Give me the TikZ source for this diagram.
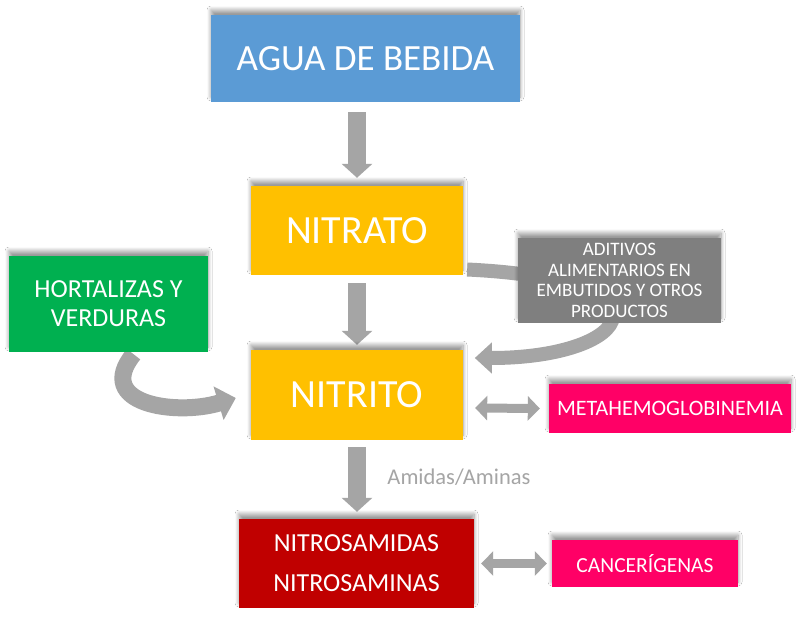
\documentclass[tikz,border=0pt]{standalone}
\usepackage{fontspec}
\setmainfont{Carlito}
\usetikzlibrary{arrows.meta,calc,backgrounds,shadows.blur}
\definecolor{cblue}{HTML}{5B9BD5}
\definecolor{cyellow}{HTML}{FFC000}
\definecolor{cgraybox}{HTML}{7F7F7F}
\definecolor{cgreen}{HTML}{00B050}
\definecolor{cpink}{HTML}{FF0066}
\definecolor{cred}{HTML}{C00000}
\definecolor{carrow}{HTML}{A5A5A5}
\tikzset{
  box/.style={rectangle, inner sep=0pt, text=white, align=center,
    blur shadow={shadow xshift=0pt, shadow yshift=5pt, shadow blur radius=4pt, shadow blur steps=8, shadow opacity=40}},
  downarrow/.style={draw=carrow, line width=18pt, -{Triangle[width=30pt,length=14pt]}},
  bothways/.style={draw=carrow, line width=9pt, {Triangle[width=24pt,length=12pt]}-{Triangle[width=24pt,length=12pt]}},
  bentarrow/.style={draw=carrow, line width=14pt, -{Triangle[width=30pt,length=17pt]}},
}
\begin{document}
\begin{tikzpicture}[x=1pt,y=-1pt]
\useasboundingbox (0,0) rectangle (806,618);
\node[box, fill=cblue, minimum width=309pt, minimum height=87pt, font=\fontsize{37}{40}\selectfont] (agua) at (365.5,58.5) {AGUA DE BEBIDA};
\node[box, fill=cyellow, minimum width=212pt, minimum height=89pt, font=\fontsize{40}{42}\selectfont] (nitrato) at (357,230.5) {NITRATO};
\node[box, fill=cgraybox, minimum width=203pt, minimum height=85pt, font=\fontsize{19}{20.5}\selectfont] (aditivos) at (619.5,280.5) {ADITIVOS\\ALIMENTARIOS EN\\EMBUTIDOS Y OTROS\\PRODUCTOS};
\node[box, fill=cgreen, minimum width=199pt, minimum height=96pt, font=\fontsize{26}{29}\selectfont] (hortalizas) at (108.5,304) {HORTALIZAS Y\\VERDURAS};
\node[box, fill=cyellow, minimum width=212pt, minimum height=90pt, font=\fontsize{40}{42}\selectfont] (nitrito) at (357,395) {NITRITO};
\node[box, fill=cpink, minimum width=242pt, minimum height=49pt, font=\fontsize{22}{24}\selectfont] (meta) at (670,408.5) {METAHEMOGLOBINEMIA};
\node[box, fill=cred, minimum width=235pt, minimum height=89pt, font=\fontsize{26}{40}\selectfont] (nitros) at (356.5,563.5) {NITROSAMIDAS\\NITROSAMINAS};
\node[box, fill=cpink, minimum width=186pt, minimum height=47pt, font=\fontsize{21.5}{25}\selectfont] (cancer) at (645,563.5) {CANCERÍGENAS};
\node[text=carrow, font=\fontsize{22.5}{26}\selectfont] (amidas) at (459,477) {Amidas/Aminas};
\begin{scope}[on background layer]
\fill[white] (0,0) rectangle (806,618);
\draw[downarrow] (nitrato.north |- agua.south) ++(0,10) coordinate (a1) -- ($(nitrato.north)+(0,-8)$);
\draw[downarrow] ($(nitrato.south)+(0,8)$) -- ($(nitrito.north)+(0,-5)$);
\draw[downarrow] ($(nitrito.south)+(0,7)$) -- ($(nitros.north)+(0.5,-7)$);
\draw[bothways] ($(nitrito.east)+(12,13)$) -- ($(meta.west)+(-9,0)$);
\draw[bothways] ($(nitros.east)+(7,0)$) -- ($(cancer.west)+(-5,0)$);
\draw[bentarrow, line width=17pt, -{Triangle[width=34pt,length=18pt]}] ($(hortalizas.south)+(25,2)$) .. controls +(-40,50) and +(-60,18) .. ($(nitrito.west)+(-15,3)$);
\draw[bentarrow] ($(nitrato.east)+(4,39)$) .. controls +(213,10) and +(160,0) .. ($(nitrito.west)+(224,-37)$);
\end{scope}
\end{tikzpicture}
\end{document}
